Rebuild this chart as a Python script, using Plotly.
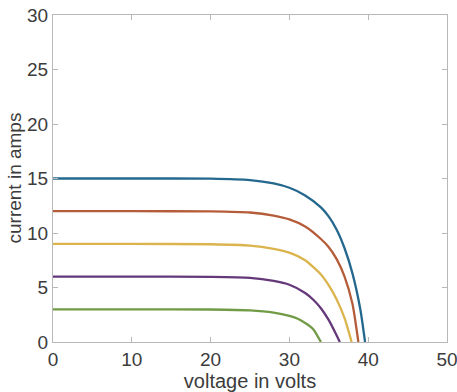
import plotly.graph_objects as go

# Data (voltage in volts, current in amps)
v_blue = [0, 10, 20, 25, 28, 30, 32, 34, 35, 36, 37, 38, 39, 39.6]
i_blue = [15, 15, 14.98, 14.85, 14.55, 14.15, 13.45, 12.35, 11.5, 10.3, 8.6, 6.3, 3.0, 0]

v_red = [0, 10, 20, 25, 28, 30, 32, 34, 35, 36, 37, 38, 38.75]
i_red = [12, 12, 11.98, 11.88, 11.6, 11.25, 10.6, 9.45, 8.7, 7.6, 6.0, 3.5, 0]

v_yellow = [0, 10, 20, 25, 28, 30, 32, 34, 35, 36, 37, 37.9]
i_yellow = [9, 9, 8.97, 8.85, 8.55, 8.2, 7.5, 6.2, 5.2, 3.9, 2.2, 0]

v_purple = [0, 10, 20, 25, 28, 30, 32, 33, 34, 35, 36, 36.4]
i_purple = [6, 6, 5.97, 5.88, 5.6, 5.25, 4.5, 3.9, 3.1, 2.0, 0.6, 0]

v_green = [0, 10, 20, 25, 28, 30, 31, 32, 33, 34]
i_green = [3, 3, 2.98, 2.9, 2.7, 2.4, 2.15, 1.75, 1.2, 0]

x_ticks = [0, 10, 20, 30, 40, 50]
y_ticks = [0, 5, 10, 15, 20, 25, 30]

series = [
    (v_blue, i_blue, "#24688e"),
    (v_red, i_red, "#b55d3a"),
    (v_yellow, i_yellow, "#dcb44e"),
    (v_purple, i_purple, "#65387a"),
    (v_green, i_green, "#719b45"),
]

fig = go.Figure()
for v, i, c in series:
    fig.add_trace(go.Scatter(x=v, y=i, mode="lines",
                             line=dict(color=c, width=2.3, shape="spline", smoothing=0.6),
                             showlegend=False, hoverinfo="skip"))

font_family = "Liberation Sans, Arial, sans-serif"
text_color = "#3c3c3c"
axis_common = dict(showgrid=False, zeroline=False, showline=True, linecolor="#b8b8b8",
                   linewidth=1, mirror="ticks", ticks="inside", ticklen=5,
                   tickcolor="#b8b8b8", automargin=False, ticklabeloverflow="allow",
                   tickfont=dict(size=19, color=text_color, family=font_family))

fig.update_layout(
    width=457, height=392,
    margin=dict(l=53, r=10, t=15, b=50),
    plot_bgcolor="white", paper_bgcolor="white",
    xaxis=dict(range=[0, 50], tickvals=x_ticks, ticktext=[str(t) for t in x_ticks],
               title=dict(text="voltage in volts", standoff=0,
                          font=dict(size=20, color=text_color, family=font_family)),
               **axis_common),
    yaxis=dict(range=[0, 30], tickvals=y_ticks, ticktext=[str(t) for t in y_ticks],
               **axis_common),
    annotations=[dict(text="current in amps", textangle=-90, xref="paper", yref="paper",
                      x=0, y=0.5, xshift=-39, xanchor="center", yanchor="middle",
                      showarrow=False,
                      font=dict(size=19, color=text_color, family=font_family))],
)

# Remove the browser's default body margin so the figure fills the window exactly.
fig.write_html("out.html", config={"displayModeBar": False},
               post_script="document.body.style.margin='0px';")
